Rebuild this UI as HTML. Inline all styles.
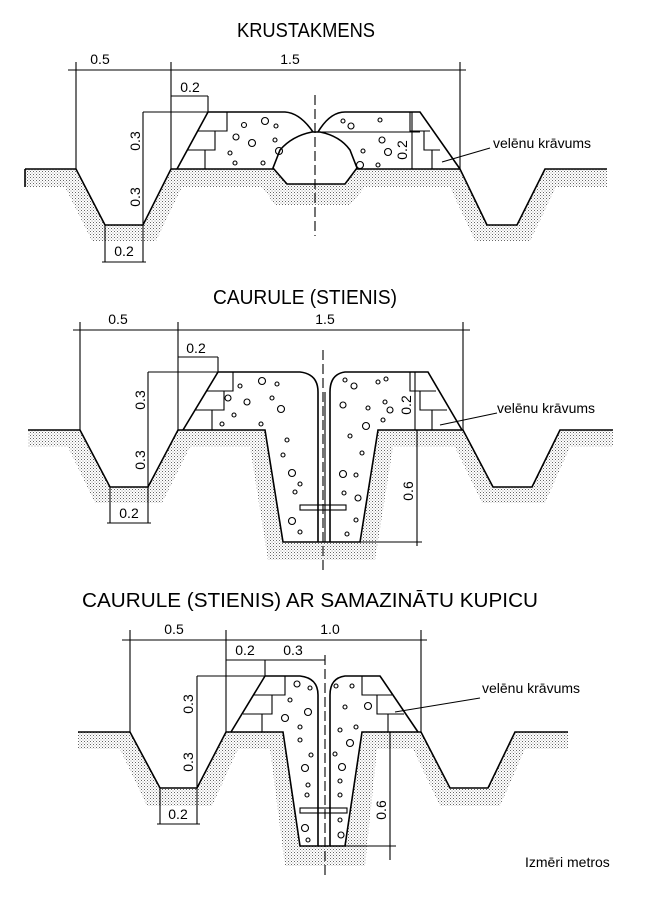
<!DOCTYPE html>
<html><head><meta charset="utf-8"><style>
html,body{margin:0;padding:0;background:#fff;}
svg{display:block;}
text{font-family:"Liberation Sans",sans-serif;fill:#000;}
</style></head><body>
<svg width="645" height="906" viewBox="0 0 645 906" xmlns="http://www.w3.org/2000/svg">
<defs>
<pattern id="st" width="3" height="3" patternUnits="userSpaceOnUse">
<rect x="0" y="0" width="1" height="1" fill="#666"/>
<rect x="1.5" y="1.5" width="1" height="1" fill="#999"/>
</pattern>
</defs>

<!-- ===== SECTION 1 ===== -->
<text x="306" y="37" font-size="20" text-anchor="middle" textLength="138" lengthAdjust="spacingAndGlyphs">KRUSTAKMENS</text>
<polygon fill="url(#st)" points="25,169 76,169 105,225 143,225 171,169 460,169 487,225 517,225 545,169 607,169 607,187 556,187 530,241 475,241 450,187 365,187 350,205 275,205 262,187 182,187 156,241 92,241 65,187 25,187"/>
<g stroke="#000" fill="none" stroke-width="1.6">
<polyline points="25,169 76,169 105,225 143,225 171,169 460,169 487,225 517,225 545,169 607,169"/>
<line x1="25" y1="169" x2="25" y2="187"/>
<path d="M177,169 L208,112 L285,112 Q300,113 313,132"/>
<path d="M318,132 Q330,112 345,112 L420,112 L460,169"/>
<path fill="#fff" d="M312,132 L320,132 Q340,136 350,150 L357,168 L345,184 L287,184 L273,168 L280,150 Q292,136 312,132 Z"/>
</g>
<g stroke="#000" fill="none" stroke-width="1.1">
<polyline points="227,112 227,131 198,131"/>
<polyline points="215,131 215,150 188,150"/>
<line x1="205" y1="150" x2="205" y2="169"/>
<polyline points="410,112 410,131 430,131"/>
<polyline points="424,131 424,150 440,150"/>
<line x1="432" y1="150" x2="432" y2="169"/>
<line x1="320" y1="132" x2="420" y2="132"/>
<line x1="68" y1="70" x2="466" y2="70"/>
<line x1="76" y1="62" x2="76" y2="169"/>
<line x1="171" y1="62" x2="171" y2="169"/>
<line x1="460" y1="62" x2="460" y2="169"/>
<line x1="171" y1="96" x2="208" y2="96"/>
<line x1="208" y1="96" x2="208" y2="112"/>
<line x1="143" y1="112" x2="208" y2="112"/>
<line x1="143" y1="112" x2="143" y2="262"/>
<line x1="105" y1="225" x2="105" y2="262"/>
<line x1="102" y1="262" x2="146" y2="262"/>
<line x1="412" y1="112" x2="412" y2="169"/>
<line x1="442" y1="162" x2="490" y2="148"/>
<line x1="315" y1="95" x2="315" y2="236" stroke-dasharray="10,4"/>
<circle cx="244" cy="125" r="2.5"/><circle cx="265" cy="121" r="3.5"/><circle cx="276" cy="126" r="2"/>
<circle cx="236" cy="137" r="3"/><circle cx="252" cy="143" r="3.5"/><circle cx="275" cy="140" r="2"/>
<circle cx="230" cy="153" r="2"/><circle cx="279" cy="151" r="3.5"/><circle cx="235" cy="163" r="2"/><circle cx="263" cy="163" r="2"/>
<circle cx="343" cy="121" r="2"/><circle cx="351" cy="126" r="3"/><circle cx="380" cy="120" r="2"/><circle cx="382" cy="140" r="3"/>
<circle cx="388" cy="152" r="3.5"/><circle cx="363" cy="151" r="2"/><circle cx="378" cy="165" r="2"/><circle cx="360" cy="165" r="3.5"/>
</g>
<text x="100" y="64" font-size="14" text-anchor="middle">0.5</text>
<text x="290" y="64" font-size="14" text-anchor="middle">1.5</text>
<text x="190" y="92" font-size="14" text-anchor="middle">0.2</text>
<text x="124" y="256" font-size="14" text-anchor="middle">0.2</text>
<text transform="translate(140,141) rotate(-90)" font-size="14" text-anchor="middle">0.3</text>
<text transform="translate(140,197) rotate(-90)" font-size="14" text-anchor="middle">0.3</text>
<text transform="translate(407,150) rotate(-90)" font-size="14" text-anchor="middle">0.2</text>
<text x="493" y="148" font-size="14">velēnu krāvums</text>

<!-- ===== SECTION 2 ===== -->
<text x="305" y="304" font-size="20" text-anchor="middle" textLength="184" lengthAdjust="spacingAndGlyphs">CAURULE (STIENIS)</text>
<polygon fill="url(#st)" points="28,430 80,430 110,487 148,487 178,430 265,430 283,542 360,542 378,430 463,430 493,487 532,487 560,430 613,430 613,447 570,447 545,503 482,503 455,447 393,447 375,560 268,560 250,447 190,447 162,503 95,503 68,447 28,447"/>
<g stroke="#000" fill="none" stroke-width="1.6">
<polyline points="28,430 80,430 110,487 148,487 178,430 265,430 283,542 360,542 378,430 463,430 493,487 532,487 560,430 613,430"/>
<path d="M183,430 L218,372 L300,372 Q318,374 318,392 L318,542"/>
<path d="M330,542 L330,392 Q330,374 345,372 L428,372 L462,430"/>
</g>
<g stroke="#000" fill="none" stroke-width="1.1">
<polyline points="233,372 233,391 207,391"/>
<polyline points="224,391 224,410 195,410"/>
<line x1="212" y1="410" x2="212" y2="430"/>
<polyline points="410,372 410,391 436,391"/>
<polyline points="420,391 420,410 447,410"/>
<line x1="432" y1="410" x2="432" y2="430"/>
<rect x="300" y="505" width="46" height="5"/>
<line x1="73" y1="330" x2="470" y2="330"/>
<line x1="80" y1="322" x2="80" y2="430"/>
<line x1="178" y1="322" x2="178" y2="430"/>
<line x1="463" y1="322" x2="463" y2="430"/>
<line x1="178" y1="357" x2="218" y2="357"/>
<line x1="218" y1="357" x2="218" y2="372"/>
<line x1="148" y1="372" x2="218" y2="372"/>
<line x1="148" y1="372" x2="148" y2="523"/>
<line x1="110" y1="487" x2="110" y2="523"/>
<line x1="107" y1="523" x2="151" y2="523"/>
<line x1="415" y1="372" x2="415" y2="430"/>
<line x1="417" y1="430" x2="417" y2="546"/>
<line x1="360" y1="542" x2="422" y2="542"/>
<line x1="440" y1="425" x2="497" y2="413"/>
<line x1="323" y1="350" x2="323" y2="572" stroke-dasharray="10,4"/>
<line x1="325" y1="392" x2="325" y2="542"/>
<circle cx="240" cy="386" r="2"/><circle cx="262" cy="381" r="3.5"/><circle cx="277" cy="384" r="2"/>
<circle cx="228" cy="398" r="3"/><circle cx="247" cy="402" r="3"/><circle cx="272" cy="398" r="2"/><circle cx="281" cy="409" r="3.5"/>
<circle cx="234" cy="415" r="2"/><circle cx="222" cy="424" r="2"/><circle cx="261" cy="424" r="2"/>
<circle cx="287" cy="440" r="2"/><circle cx="283" cy="455" r="2"/><circle cx="292" cy="473" r="3.5"/><circle cx="300" cy="484" r="2"/>
<circle cx="295" cy="492" r="2"/><circle cx="292" cy="521" r="3.5"/><circle cx="300" cy="532" r="2"/>
<circle cx="345" cy="380" r="2"/><circle cx="354" cy="386" r="3"/><circle cx="378" cy="382" r="2"/><circle cx="386" cy="379" r="2"/>
<circle cx="343" cy="405" r="3"/><circle cx="368" cy="408" r="2"/><circle cx="385" cy="402" r="2"/><circle cx="390" cy="410" r="3"/>
<circle cx="383" cy="420" r="2"/><circle cx="366" cy="426" r="3.5"/><circle cx="350" cy="436" r="2"/><circle cx="362" cy="453" r="2"/>
<circle cx="343" cy="474" r="3.5"/><circle cx="356" cy="475" r="2"/><circle cx="344" cy="493" r="2"/><circle cx="358" cy="498" r="3"/><circle cx="356" cy="520" r="2"/><circle cx="347" cy="534" r="2"/>
</g>
<text x="118" y="324" font-size="14" text-anchor="middle">0.5</text>
<text x="325" y="324" font-size="14" text-anchor="middle">1.5</text>
<text x="196" y="353" font-size="14" text-anchor="middle">0.2</text>
<text x="129" y="518" font-size="14" text-anchor="middle">0.2</text>
<text transform="translate(145,400) rotate(-90)" font-size="14" text-anchor="middle">0.3</text>
<text transform="translate(145,460) rotate(-90)" font-size="14" text-anchor="middle">0.3</text>
<text transform="translate(411,405) rotate(-90)" font-size="14" text-anchor="middle">0.2</text>
<text transform="translate(413,491) rotate(-90)" font-size="14" text-anchor="middle">0.6</text>
<text x="497" y="413" font-size="14">velēnu krāvums</text>

<!-- ===== SECTION 3 ===== -->
<text x="310" y="607" font-size="20" text-anchor="middle" textLength="456" lengthAdjust="spacingAndGlyphs">CAURULE (STIENIS) AR SAMAZINĀTU KUPICU</text>
<polygon fill="url(#st)" points="78,732 130,732 160,788 197,788 226,732 283,732 300,846 345,846 362,732 421,732 450,788 488,788 515,732 568,732 568,749 525,749 500,806 440,806 413,749 377,749 365,866 285,866 270,749 238,749 212,806 147,806 120,749 78,749"/>
<g stroke="#000" fill="none" stroke-width="1.6">
<polyline points="78,732 130,732 160,788 197,788 226,732 283,732 300,846 345,846 362,732 421,732 450,788 488,788 515,732 568,732"/>
<path d="M231,732 L265,676 L300,676 Q318,678 318,695 L318,846"/>
<path d="M330,846 L330,695 Q330,678 345,676 L380,676 L418,732"/>
</g>
<g stroke="#000" fill="none" stroke-width="1.1">
<polyline points="285,676 285,695 254,695"/>
<polyline points="272,695 272,714 243,714"/>
<line x1="262" y1="714" x2="262" y2="732"/>
<polyline points="362,676 362,695 392,695"/>
<polyline points="377,695 377,714 404,714"/>
<line x1="388" y1="714" x2="388" y2="732"/>
<rect x="300" y="808" width="47" height="5"/>
<line x1="122" y1="640" x2="427" y2="640"/>
<line x1="130" y1="630" x2="130" y2="732"/>
<line x1="226" y1="630" x2="226" y2="732"/>
<line x1="421" y1="630" x2="421" y2="732"/>
<line x1="226" y1="660" x2="325" y2="660"/>
<line x1="265" y1="660" x2="265" y2="676"/>
<line x1="197" y1="676" x2="265" y2="676"/>
<line x1="197" y1="676" x2="197" y2="824"/>
<line x1="160" y1="788" x2="160" y2="824"/>
<line x1="157" y1="824" x2="200" y2="824"/>
<line x1="390" y1="732" x2="390" y2="860"/>
<line x1="345" y1="846" x2="396" y2="846"/>
<line x1="395" y1="712" x2="480" y2="698"/>
<line x1="325" y1="655" x2="325" y2="875" stroke-dasharray="10,4"/>
<circle cx="297" cy="684" r="3"/><circle cx="310" cy="688" r="2"/><circle cx="290" cy="700" r="2"/>
<circle cx="308" cy="712" r="3.5"/><circle cx="285" cy="718" r="3.5"/><circle cx="300" cy="727" r="2"/><circle cx="300" cy="740" r="2"/>
<circle cx="311" cy="755" r="2"/><circle cx="305" cy="768" r="3.5"/><circle cx="308" cy="785" r="2"/><circle cx="307" cy="795" r="2"/>
<circle cx="305" cy="828" r="3.5"/><circle cx="308" cy="840" r="2"/>
<circle cx="336" cy="686" r="2"/><circle cx="352" cy="686" r="2"/><circle cx="345" cy="707" r="2"/><circle cx="368" cy="706" r="3.5"/>
<circle cx="340" cy="730" r="2"/><circle cx="356" cy="727" r="2"/><circle cx="350" cy="743" r="3.5"/><circle cx="335" cy="754" r="2"/>
<circle cx="342" cy="767" r="3.5"/><circle cx="340" cy="781" r="2"/><circle cx="340" cy="795" r="2"/><circle cx="340" cy="820" r="2"/><circle cx="341" cy="835" r="3"/>
</g>
<text x="174" y="634" font-size="14" text-anchor="middle">0.5</text>
<text x="330" y="634" font-size="14" text-anchor="middle">1.0</text>
<text x="245" y="655" font-size="14" text-anchor="middle">0.2</text>
<text x="293" y="655" font-size="14" text-anchor="middle">0.3</text>
<text x="178" y="819" font-size="14" text-anchor="middle">0.2</text>
<text transform="translate(193,704) rotate(-90)" font-size="14" text-anchor="middle">0.3</text>
<text transform="translate(193,762) rotate(-90)" font-size="14" text-anchor="middle">0.3</text>
<text transform="translate(386,810) rotate(-90)" font-size="14" text-anchor="middle">0.6</text>
<text x="482" y="693" font-size="14">velēnu krāvums</text>
<text x="525" y="867" font-size="14">Izmēri metros</text>
</svg>
</body></html>
